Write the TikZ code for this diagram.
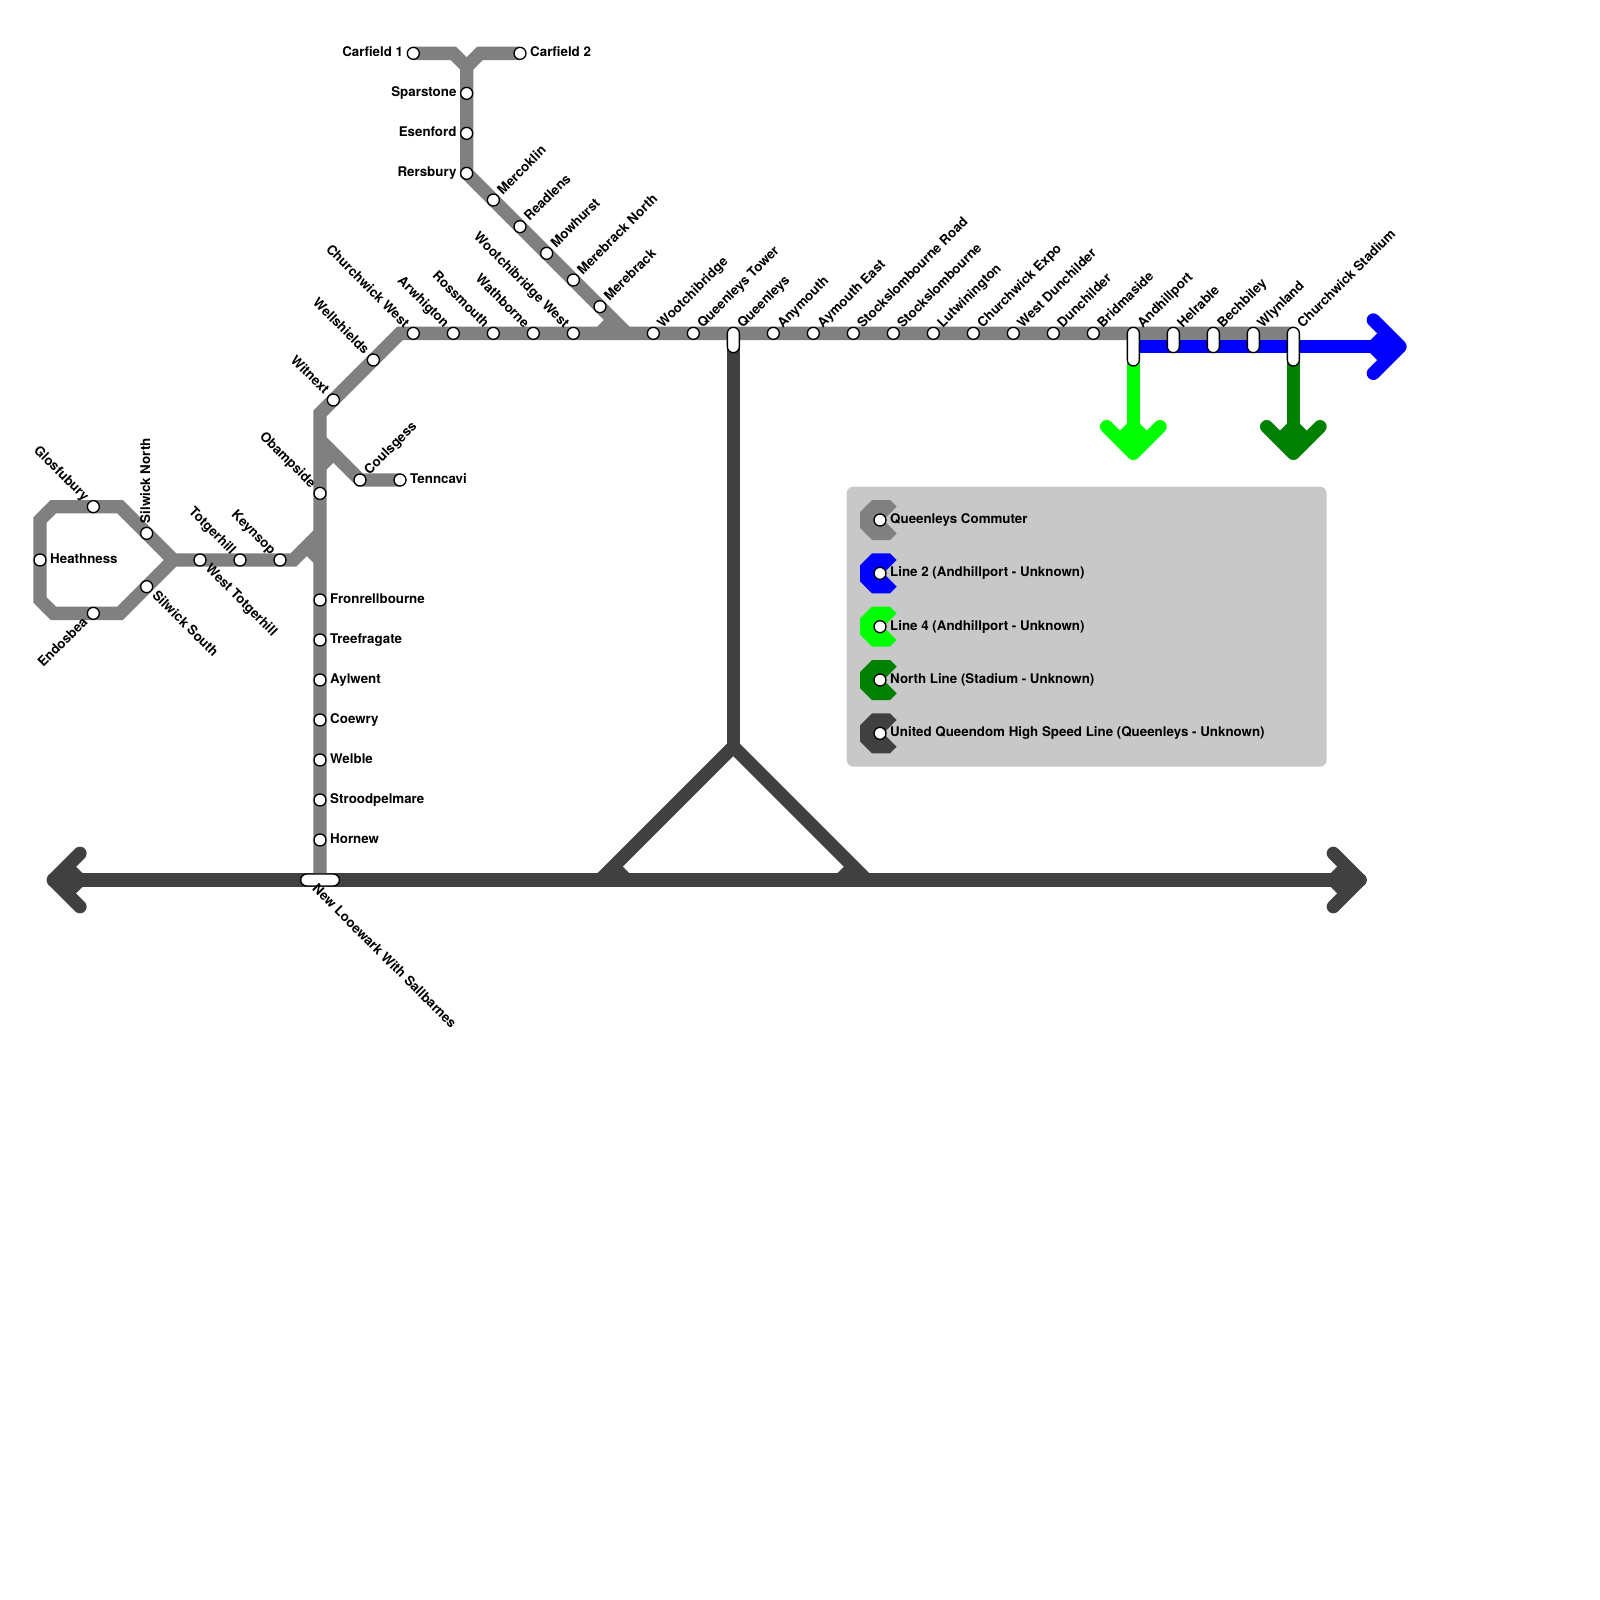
\documentclass[tikz,border=0pt]{standalone}
\usepackage{fontspec}
\setmainfont{TeX Gyre Heros}
\definecolor{Commuter}{HTML}{808080}
\definecolor{LineTwo}{HTML}{0000FF}
\definecolor{LineFour}{HTML}{00FF00}
\definecolor{NorthLine}{HTML}{008000}
\definecolor{HighSpeed}{HTML}{404040}
\definecolor{LegendBg}{HTML}{C8C8C8}
\usetikzlibrary{backgrounds}

\newcommand{\legshape}{(-.6,-1.5) -- (.75,-1.5) -- (1.25,-1) -- (.25,0) -- (1.25,1) -- (.75,1.5)
  -- (-.6,1.5) -- (-1.5,.6) -- (-1.5,-.6) -- cycle}

\begin{document}
\begin{tikzpicture}[x=4mm, y=-4mm,
  stn/.style={circle, draw=black, fill=white, line width=.4mm, minimum size=3.6mm, inner sep=0pt},
  pilltwo/.style={rectangle, rounded corners=1.8mm, draw=black, fill=white, line width=.4mm,
                  minimum width=3.6mm, minimum height=7.6mm, inner sep=0pt},
  pillthree/.style={pilltwo, minimum height=11.6mm},
  pillwide/.style={pilltwo, minimum width=11.6mm, minimum height=3.6mm},
  lbl/.style={font=\fontsize{11.38pt}{13pt}\selectfont\bfseries, inner sep=0pt, anchor=base west},
  lblr/.style={lbl, anchor=base east},
  tne/.style={lbl, rotate=45, xshift=3mm, yshift=-1mm},
  tse/.style={lbl, rotate=-45, xshift=3mm, yshift=-1mm},
  tnw/.style={lblr, rotate=-45, xshift=-3mm, yshift=-1mm},
  tsw/.style={lblr, rotate=45, xshift=-3mm, yshift=-1mm},
  te/.style={lbl, xshift=3mm, yshift=-1mm},
  tw/.style={lblr, xshift=-3mm, yshift=-1mm},
  tn/.style={lbl, rotate=90, xshift=3mm, yshift=-1mm},
  rail/.style={line width=4mm, line join=miter},
  head/.style={line width=4mm, line cap=round, line join=round}
]

%% ---- Legend panel ----
\begin{scope}[on background layer]
\fill[LegendBg, rounded corners=2mm] (63.5,36.5) rectangle (99.5,57.5);
\fill[Commuter,  shift={(66,39)}] \legshape;
\fill[LineTwo,   shift={(66,43)}] \legshape;
\fill[LineFour,  shift={(66,47)}] \legshape;
\fill[NorthLine, shift={(66,51)}] \legshape;
\fill[HighSpeed, shift={(66,55)}] \legshape;
\end{scope}
\node[stn] (legone)   at (66,39) {};
\node[stn] (legtwo)   at (66,43) {};
\node[stn] (legthree) at (66,47) {};
\node[stn] (legfour)  at (66,51) {};
\node[stn] (legfive)  at (66,55) {};
\node[lbl] (legonetxt)   at (66.75,39.25) {Queenleys Commuter};
\node[lbl] (legtwotxt)   at (66.75,43.25) {Line 2 (Andhillport - Unknown)};
\node[lbl] (legthreetxt) at (66.75,47.25) {Line 4 (Andhillport - Unknown)};
\node[lbl] (legfourtxt)  at (66.75,51.25) {North Line (Stadium - Unknown)};
\node[lbl] (legfivetxt)  at (66.75,55.25) {United Queendom High Speed Line (Queenleys - Unknown)};

%% ---- Top branch ----
\node[stn] (carfieldone) at (31,4)  {}; \node[tw]  (carfieldonetxt) at (carfieldone) {Carfield 1};
\node[stn] (carfieldtwo) at (39,4)  {}; \node[te]  (carfieldtwotxt) at (carfieldtwo) {Carfield 2};
\node[stn] (sparstone)   at (35,7)  {}; \node[tw]  (sparstonetxt)   at (sparstone)   {Sparstone};
\node[stn] (esenford)    at (35,10) {}; \node[tw]  (esenfordtxt)    at (esenford)    {Esenford};
\node[stn] (rersbury)    at (35,13) {}; \node[tw]  (rersburytxt)    at (rersbury)    {Rersbury};
\node[stn] (mercoklin)   at (37,15) {}; \node[tne] (mercoklintxt)   at (mercoklin)   {Mercoklin};
\node[stn] (readlens)    at (39,17) {}; \node[tne] (readlenstxt)    at (readlens)    {Readlens};
\node[stn] (mowhurst)    at (41,19) {}; \node[tne] (mowhursttxt)    at (mowhurst)    {Mowhurst};
\node[stn] (merebrackn)  at (43,21) {}; \node[tne] (merebrackntxt)  at (merebrackn)  {Merebrack North};
\node[stn] (merebrack)   at (45,23) {}; \node[tne] (merebracktxt)   at (merebrack)   {Merebrack};

%% ---- Main row, y = 25 ----
\node[stn] (churchwickw)  at (31,25) {}; \node[tnw] (churchwickwtxt)  at (churchwickw)  {Churchwick West};
\node[stn] (arwhigton)    at (34,25) {}; \node[tnw] (arwhigtontxt)    at (arwhigton)    {Arwhigton};
\node[stn] (rossmouth)    at (37,25) {}; \node[tnw] (rossmouthtxt)    at (rossmouth)    {Rossmouth};
\node[stn] (wathborne)    at (40,25) {}; \node[tnw] (wathbornetxt)    at (wathborne)    {Wathborne};
\node[stn] (wootchiw)     at (43,25) {}; \node[tnw] (wootchiwtxt)     at (wootchiw)     {Wootchibridge West};
\node[stn] (wootchi)      at (49,25) {}; \node[tne] (wootchitxt)      at (wootchi)      {Wootchibridge};
\node[stn] (queenleyst)   at (52,25) {}; \node[tne] (queenleysttxt)   at (queenleyst)   {Queenleys Tower};
\node[stn] (anymouth)     at (58,25) {}; \node[tne] (anymouthtxt)     at (anymouth)     {Anymouth};
\node[stn] (aymouthe)     at (61,25) {}; \node[tne] (aymouthetxt)     at (aymouthe)     {Aymouth East};
\node[stn] (stocksroad)   at (64,25) {}; \node[tne] (stocksroadtxt)   at (stocksroad)   {Stockslombourne Road};
\node[stn] (stocks)       at (67,25) {}; \node[tne] (stockstxt)       at (stocks)       {Stockslombourne};
\node[stn] (lutwinington) at (70,25) {}; \node[tne] (lutwiningtontxt) at (lutwinington) {Lutwinington};
\node[stn] (churchwicke)  at (73,25) {}; \node[tne] (churchwicketxt)  at (churchwicke)  {Churchwick Expo};
\node[stn] (westdun)      at (76,25) {}; \node[tne] (westduntxt)      at (westdun)      {West Dunchilder};
\node[stn] (dunchilder)   at (79,25) {}; \node[tne] (dunchildertxt)   at (dunchilder)   {Dunchilder};
\node[stn] (bridmaside)   at (82,25) {}; \node[tne] (bridmasidetxt)   at (bridmaside)   {Bridmaside};

%% ---- Interchanges ----
\node[pilltwo]   (queenleys)   at (55,25.5) {}; \node[tne] (queenleystxt)   at (55,25) {Queenleys};
\node[pillthree] (andhillport) at (85,26)   {}; \node[tne] (andhillporttxt) at (85,25) {Andhillport};
\node[pilltwo]   (helrable)    at (88,25.5) {}; \node[tne] (helrabletxt)    at (88,25) {Helrable};
\node[pilltwo]   (bechbiley)   at (91,25.5) {}; \node[tne] (bechbileytxt)   at (91,25) {Bechbiley};
\node[pilltwo]   (wlynland)    at (94,25.5) {}; \node[tne] (wlynlandtxt)    at (94,25) {Wlynland};
\node[pillthree] (stadium)     at (97,26)   {}; \node[tne] (stadiumtxt)     at (97,25) {Churchwick Stadium};
\node[pillwide]  (newlooewark) at (24,66)   {}; \node[tse] (newlooewarktxt) at (23,66) {New Looewark With Sallbarnes};

%% ---- Vertical and its climb to the row ----
\node[stn] (wellshields)   at (28,27) {}; \node[tnw] (wellshieldstxt)   at (wellshields)   {Wellshields};
\node[stn] (witnext)       at (25,30) {}; \node[tnw] (witnexttxt)       at (witnext)       {Witnext};
\node[stn] (coulsgess)     at (27,36) {}; \node[tne] (coulsgesstxt)     at (coulsgess)     {Coulsgess};
\node[stn] (tenncavi)      at (30,36) {}; \node[te]  (tenncavitxt)      at (tenncavi)      {Tenncavi};
\node[stn] (obampside)     at (24,37) {}; \node[tnw] (obampsidetxt)     at (obampside)     {Obampside};
\node[stn] (fronrell)      at (24,45) {}; \node[te]  (fronrelltxt)      at (fronrell)      {Fronrellbourne};
\node[stn] (treefragate)   at (24,48) {}; \node[te]  (treefragatetxt)   at (treefragate)   {Treefragate};
\node[stn] (aylwent)       at (24,51) {}; \node[te]  (aylwenttxt)       at (aylwent)       {Aylwent};
\node[stn] (coewry)        at (24,54) {}; \node[te]  (coewrytxt)        at (coewry)        {Coewry};
\node[stn] (welble)        at (24,57) {}; \node[te]  (welbletxt)        at (welble)        {Welble};
\node[stn] (stroodpelmare) at (24,60) {}; \node[te]  (stroodpelmaretxt) at (stroodpelmare) {Stroodpelmare};
\node[stn] (hornew)        at (24,63) {}; \node[te]  (hornewtxt)        at (hornew)        {Hornew};

%% ---- West loop ----
\node[stn] (heathness)  at (3,42)  {}; \node[te]  (heathnesstxt)  at (heathness)  {Heathness};
\node[stn] (glosfubury) at (7,38)  {}; \node[tnw] (glosfuburytxt) at (glosfubury) {Glosfubury};
\node[stn] (endosbea)   at (7,46)  {}; \node[tsw] (endosbeatxt)   at (endosbea)   {Endosbea};
\node[stn] (silwickn)   at (11,40) {}; \node[tn]  (silwickntxt)   at (silwickn)   {Silwick North};
\node[stn] (silwicks)   at (11,44) {}; \node[tse] (silwickstxt)   at (silwicks)   {Silwick South};
\node[stn] (westtot)    at (15,42) {}; \node[tse] (westtottxt)    at (westtot)    {West Totgerhill};
\node[stn] (totgerhill) at (18,42) {}; \node[tnw] (totgerhilltxt) at (totgerhill) {Totgerhill};
\node[stn] (keynsop)    at (21,42) {}; \node[tnw] (keynsoptxt)    at (keynsop)    {Keynsop};

%% ---- Bends and line ends ----
\coordinate (cfleft)   at (34,4);
\coordinate (cfright)  at (36,4);
\coordinate (cfjoin)   at (35,5);
\coordinate (rowjoin)  at (47,25);
\coordinate (rowbend)  at (30,25);
\coordinate (rowend)   at (97,25);
\coordinate (vertbend) at (24,31);
\coordinate (coulsjoin) at (24,33);
\coordinate (keyjoin)  at (24,40);
\coordinate (keybend)  at (22,42);
\coordinate (loopjoin) at (13,42);
\coordinate (loopa)    at (9,38);
\coordinate (loopb)    at (4,38);
\coordinate (loopc)    at (3,39);
\coordinate (loopd)    at (3,45);
\coordinate (loope)    at (4,46);
\coordinate (loopf)    at (9,46);
\coordinate (hsapex)   at (55,56);
\coordinate (hsleft)   at (45,66);
\coordinate (hsright)  at (65,66);
\coordinate (hswest)   at (4,66);
\coordinate (hseast)   at (102,66);
\coordinate (twotip)   at (105,26);
\coordinate (fourtip)  at (85,34);
\coordinate (northtip) at (97,34);

\begin{scope}[on background layer]
%% ---- High speed line ----
\draw[rail, HighSpeed] (queenleys.center) -- (hsapex);
\draw[rail, HighSpeed] (hsleft) -- (hsapex) -- (hsright);
\draw[rail, HighSpeed] (46,65) -- (47,66);
\draw[rail, HighSpeed] (64,65) -- (63,66);
\draw[head, HighSpeed] (hswest) -- (hseast);
\draw[head, HighSpeed] (6,64) -- (hswest) -- (6,68);
\draw[head, HighSpeed] (100,64) -- (hseast) -- (100,68);
\draw[rail, HighSpeed] (5,65) -- (6,66) -- (5,67);
\draw[rail, HighSpeed] (101,65) -- (100,66) -- (101,67);

%% ---- Commuter line ----
\draw[rail, Commuter] (carfieldone.center) -- (cfleft) -- (cfjoin) -- (rersbury.center) -- (rowjoin);
\draw[rail, Commuter] (carfieldtwo.center) -- (cfright) -- (cfjoin);
\draw[rail, Commuter] (newlooewark.center) -- (vertbend) -- (rowbend) -- (rowend);
\draw[rail, Commuter] (tenncavi.center) -- (coulsgess.center) -- (coulsjoin);
\draw[rail, Commuter] (loopjoin) -- (loopa) -- (loopb) -- (loopc) -- (loopd) -- (loope) -- (loopf) -- cycle;
\draw[rail, Commuter] (loopjoin) -- (keybend) -- (keyjoin);
% short stubs that fill the junction corners
\draw[rail, Commuter] (45,25) -- (46,24);
\draw[rail, Commuter] (24,35) -- (25,34);
\draw[rail, Commuter] (23,41) -- (24,42);

%% ---- Coloured lines with open arrow heads ----
\draw[rail, LineTwo] (andhillport.center) -- (twotip);
\draw[head, LineTwo] (103,24) -- (twotip) -- (103,28);
\draw[rail, LineTwo] (104,25) -- (103,26) -- (104,27);
\draw[rail, LineFour] (andhillport.center) -- (fourtip);
\draw[head, LineFour] (83,32) -- (fourtip) -- (87,32);
\draw[rail, LineFour] (84,33) -- (85,32) -- (86,33);
\draw[rail, NorthLine] (stadium.center) -- (northtip);
\draw[head, NorthLine] (95,32) -- (northtip) -- (99,32);
\draw[rail, NorthLine] (96,33) -- (97,32) -- (98,33);
\end{scope}

\useasboundingbox (0,0) rectangle (120,120);
\end{tikzpicture}
\end{document}
